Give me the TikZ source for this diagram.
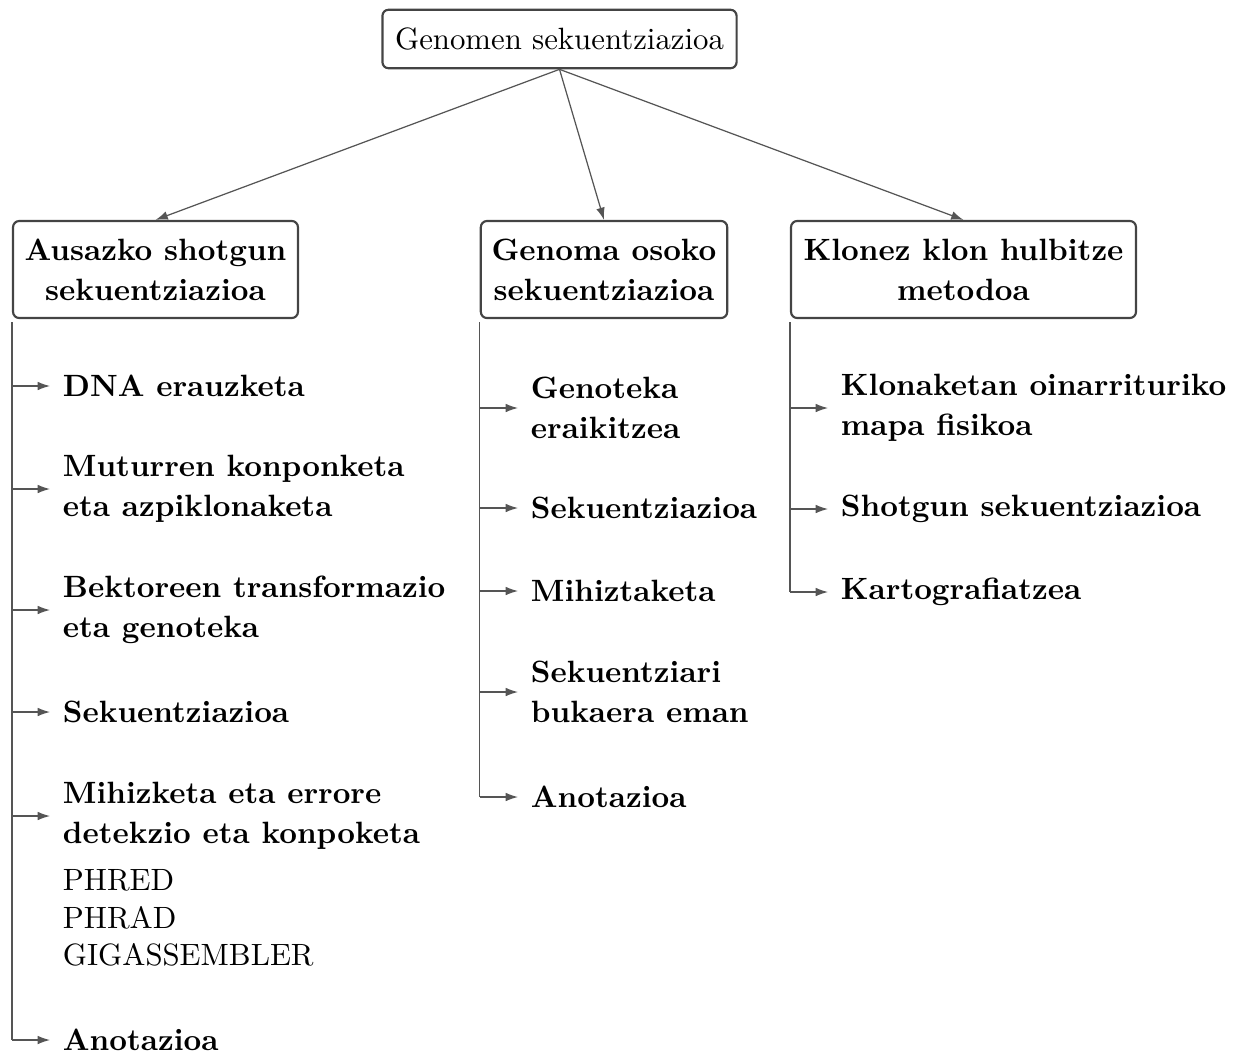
\documentclass[tikz,border=0pt]{standalone}
\usetikzlibrary{arrows.meta}
\definecolor{edge}{HTML}{444444}
\definecolor{wire}{HTML}{555555}
\begin{document}
\begin{tikzpicture}[x=0.3247pt, y=-0.3247pt,
  box/.style={draw=edge, line width=0.7pt, rounded corners=2pt, align=center,
    font=\fontsize{10}{13}\selectfont\bfseries, minimum height=31.5pt, inner sep=2pt},
  rootbox/.style={draw=edge, line width=0.7pt, rounded corners=2pt,
    font=\fontsize{10}{12}\selectfont, minimum width=115pt, minimum height=19pt, inner sep=2pt},
  item/.style={anchor=west, align=left, inner sep=4pt,
    font=\fontsize{10}{13}\selectfont\bfseries},
  plain/.style={anchor=west, align=left, inner sep=4pt,
    font=\fontsize{10}{12.2}\selectfont},
  link/.style={draw=wire, line width=0.4pt, -{Latex[length=4pt,width=2.8pt]}},
  trunk/.style={draw=wire, line width=0.4pt}]
\useasboundingbox (0,0) rectangle (1240,1053);

% header and the three methods
\node[rootbox] (root) at (559.5,39) {Genomen sekuentziazioa};
\node[box, minimum width=92.5pt] (b1) at (155.5,269.5) {Ausazko shotgun\\sekuentziazioa};
\node[box, minimum width=80pt] (b2) at (604,269.5) {Genoma osoko\\sekuentziazioa};
\node[box, minimum width=112pt] (b3) at (963.5,269.5) {Klonez klon hulbitze\\metodoa};

\draw[link] (root.south) -- (b1.north);
\draw[link] (root.south) -- (b2.north);
\draw[link] (root.south) -- (b3.north);

% steps of the random shotgun method
\node[item] (l1) at (50,386) {DNA erauzketa};
\node[item] (l2) at (50,489) {Muturren konponketa\\eta azpiklonaketa};
\node[item] (l3) at (50,610) {Bektoreen transformazio\\eta genoteka};
\node[item] (l4) at (50,712) {Sekuentziazioa};
\node[item] (l5) at (50,816) {Mihizketa eta errore\\detekzio eta konpoketa};
\node[plain] (tools) at (50,918) {PHRED\\PHRAD\\GIGASSEMBLER};
\node[item] (l6) at (50,1040) {Anotazioa};

\draw[trunk] ([yshift=-1pt]b1.south west) -- (b1.south west |- l6.west);
\foreach \n in {l1,l2,l3,l4,l5,l6}
  \draw[link] (b1.south west |- \n.west) -- (\n.west);

% steps of the whole genome method
\node[item] (m1) at (518,408) {Genoteka\\eraikitzea};
\node[item] (m2) at (518,508) {Sekuentziazioa};
\node[item] (m3) at (518,591) {Mihiztaketa};
\node[item] (m4) at (518,692) {Sekuentziari\\bukaera eman};
\node[item] (m5) at (518,797) {Anotazioa};

\draw[trunk] ([yshift=-1pt]b2.south west) -- (b2.south west |- m5.west);
\foreach \n in {m1,m2,m3,m4,m5}
  \draw[link] (b2.south west |- \n.west) -- (\n.west);

% steps of the clone-by-clone method
\node[item] (r1) at (828,408) {Klonaketan oinarrituriko\\mapa fisikoa};
\node[item] (r2) at (828,509) {Shotgun sekuentziazioa};
\node[item] (r3) at (828,592) {Kartografiatzea};

\draw[trunk] ([yshift=-1pt]b3.south west) -- (b3.south west |- r3.west);
\foreach \n in {r1,r2,r3}
  \draw[link] (b3.south west |- \n.west) -- (\n.west);
\end{tikzpicture}
\end{document}
